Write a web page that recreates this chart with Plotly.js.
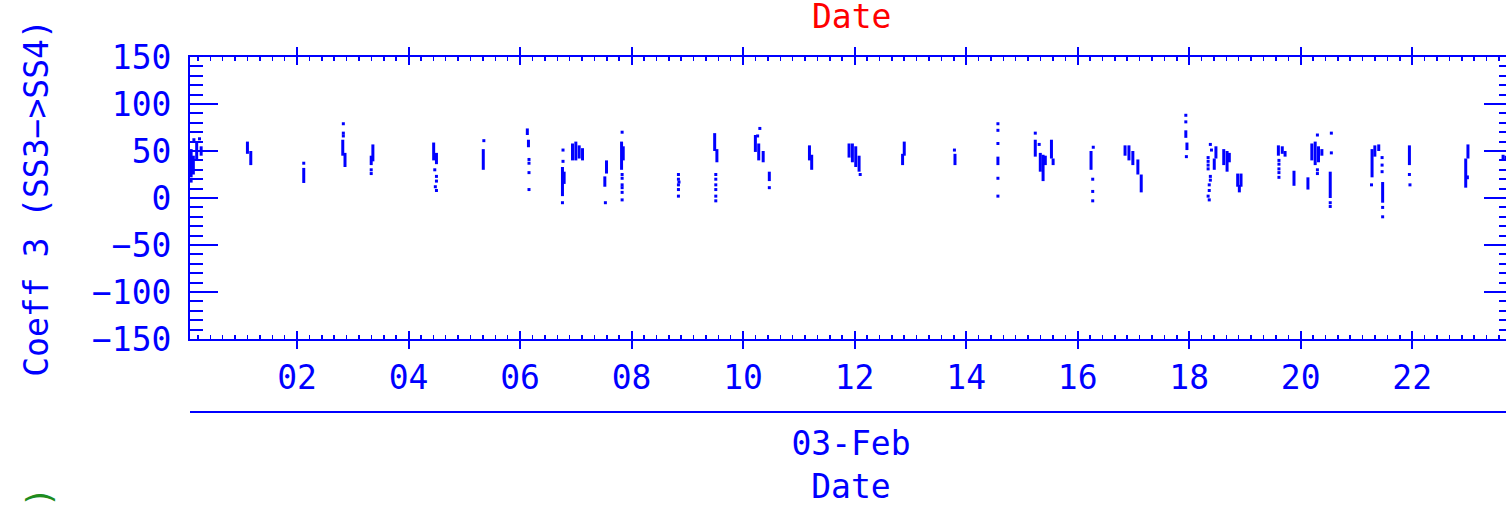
<!DOCTYPE html>
<html>
<head>
<meta charset="utf-8">
<script src="https://cdn.plot.ly/plotly-3.0.1.min.js"></script>
<style>
html, body { margin: 0; padding: 0; overflow: hidden; background: #fff; }
#chart { width: 1520px; height: 506px; }
</style>
</head>
<body>
<div id="chart"></div>
<script>
// ---- Data (hours of 03-Feb, coefficient values) ----
// Dense vertical runs of points: hour, low value, high value
const runHour = [0.10,0.14,0.20,0.28,1.11,1.17,2.12,2.82,2.86,3.36,3.33,4.45,4.50,5.34,6.13,6.15,6.76,6.79,6.94,7.00,7.06,7.12,7.55,7.52,7.82,7.85,9.49,9.53,10.22,10.28,10.36,10.47,11.19,11.23,11.90,11.96,12.02,12.08,12.89,12.86,13.80,14.57,15.24,15.33,15.38,15.42,15.53,15.56,16.24,16.85,16.92,16.99,17.08,17.14,17.94,17.96,18.48,18.45,18.62,18.68,18.72,18.87,18.93,18.90,19.60,19.67,19.72,19.88,20.13,20.20,20.26,20.32,20.38,20.53,21.28,21.33,21.40,21.47,21.95,23.00,22.96,22.99,23.63,23.68];
const runLow  = [22,25,40,45,47,35,16,45,33,39,35,40,36,30,67,54,2,15,40,40,42,40,26,12,30,40,50,38,49,40,38,18,40,30,43,38,33,28,45,35,35,35,44,28,18,35,42,35,30,45,40,35,25,6,64,51,42,30,35,28,38,12,12,6,45,47,44,13,9,40,35,38,45,0,22,44,50,-5,35,42,11,20,40,41];
const runHigh = [52,45,60,55,60,50,32,62,48,57,45,59,48,52,74,62,33,28,58,60,56,53,40,23,60,55,69,52,67,58,50,28,56,46,58,58,55,45,60,47,47,44,62,48,46,45,62,42,50,56,56,50,41,25,72,59,55,42,52,50,48,26,26,14,56,55,50,29,22,58,60,55,52,28,52,56,57,17,56,57,42,24,46,45];
// Isolated points: hour, value
const dotHour = [0.15,0.25,0.10,2.12,2.83,2.83,2.83,3.33,3.33,4.47,4.50,4.50,4.48,4.50,5.35,6.16,6.16,6.16,6.16,6.77,6.77,6.76,7.53,7.83,7.83,7.83,7.83,7.83,7.83,7.83,8.84,8.84,8.85,8.84,8.84,8.84,9.51,9.51,9.51,9.51,9.51,9.51,10.30,10.26,10.47,12.10,13.79,14.57,14.57,14.57,14.57,14.57,15.24,15.31,16.28,16.27,16.27,16.27,17.94,17.94,17.95,18.38,18.40,18.34,18.34,18.34,18.34,18.38,18.38,18.36,18.36,18.34,18.36,19.61,19.61,19.61,19.61,19.61,20.30,20.30,20.30,20.53,20.53,20.55,20.55,21.27,21.46,21.46,21.46,21.47,21.47,21.95,21.96];
const dotValue = [62,63,18,37,79,69,66,30,26,30,23,18,12,8,61,41,37,27,9,51,39,-5,-5,70,25,21,14,11,6,-2,25,20,17,14,9,2,25,20,14,9,2,-3,74,66,11,25,51,79,72,58,21,2,69,57,54,20,7,-3,88,81,44,57,51,43,39,35,31,23,19,14,8,2,-2,40,36,31,27,22,67,30,26,-5,-9,69,48,14,43,35,28,-10,-20,25,14];
// Axis ticks
const xTickVals = [2,4,6,8,10,12,14,16,18,20,22];
const xTickText = ["02","04","06","08","10","12","14","16","18","20","22"];
const yTickVals = [-150,-100,-50,0,50,100,150];
const yTickText = ["\u2212150","\u2212100","\u221250","0","50","100","150"];
const xRange = [0.08, 23.79];
const yRange = [-150, 150];
const xMinorStep = 2 / 9;
const yMinorStep = 10;

// ---- Build traces ----
const segX = [], segY = [];
for (let i = 0; i < runHour.length; i++) {
  segX.push(runHour[i], runHour[i], null);
  segY.push(runLow[i], runHigh[i], null);
}
const BLUE = '#0000ff';
const FONT = 'DejaVu Sans Mono';
const DOMAIN_Y = [0.2056, 1];

const traces = [
  { x: segX, y: segY, mode: 'lines', type: 'scatter', connectgaps: false,
    line: { color: BLUE, width: 3 }, hoverinfo: 'skip', showlegend: false },
  { x: dotHour, y: dotValue, mode: 'markers', type: 'scatter',
    marker: { color: BLUE, size: 3, symbol: 'square', line: { width: 0 } },
    showlegend: false },
  { x: [], y: [], xaxis: 'x2', yaxis: 'y', type: 'scatter', mode: 'markers', showlegend: false },
  { x: [], y: [], xaxis: 'x3', yaxis: 'y', type: 'scatter', mode: 'markers', showlegend: false },
  { x: [], y: [], xaxis: 'x', yaxis: 'y3', type: 'scatter', mode: 'markers', showlegend: false },
  { x: [], y: [], xaxis: 'x', yaxis: 'y5', type: 'scatter', mode: 'markers', showlegend: false }
];

const layout = {
  width: 1520, height: 506,
  margin: { l: 190, r: 8, t: 57, b: 94 },
  paper_bgcolor: '#fff', plot_bgcolor: '#fff',
  font: { family: FONT, size: 33, color: BLUE },
  showlegend: false,
  xaxis: {
    anchor: 'y', range: xRange, showgrid: false, zeroline: false,
    showline: true, linecolor: BLUE, linewidth: 2, mirror: 'allticks',
    ticks: 'inside', ticklen: 8, tickwidth: 2, tickcolor: BLUE,
    tickvals: xTickVals, ticktext: xTickText, ticklabelstandoff: 8,
    tickfont: { family: FONT, size: 33, color: BLUE }
  },
  xaxis3: {
    overlaying: 'x', anchor: 'y', range: xRange, showgrid: false, zeroline: false,
    showline: false, mirror: 'ticks', showticklabels: false,
    tickmode: 'linear', tick0: 0, dtick: xMinorStep,
    ticks: 'inside', ticklen: 4, tickwidth: 1.5, tickcolor: BLUE
  },
  xaxis2: {
    overlaying: 'x', anchor: 'free', position: 0, range: xRange,
    showgrid: false, zeroline: false, showline: true, linecolor: BLUE, linewidth: 2,
    ticks: '', showticklabels: false,
    title: { text: '03-Feb<br>Date', standoff: 24, font: { family: FONT, size: 33, color: BLUE } }
  },
  yaxis: {
    domain: DOMAIN_Y, range: yRange, showgrid: false, zeroline: false,
    showline: true, linecolor: BLUE, linewidth: 2, mirror: true,
    ticks: '', tickvals: yTickVals, ticktext: yTickText, ticklabelstandoff: 10,
    tickfont: { family: FONT, size: 33, color: BLUE },
    title: { text: 'Coeff 3 (SS3\u2212>SS4)', standoff: 33, font: { family: FONT, size: 33, color: BLUE } }
  },
  yaxis3: {
    overlaying: 'y', anchor: 'x', range: yRange, showgrid: false, zeroline: false,
    showline: false, mirror: 'ticks', showticklabels: false,
    tickmode: 'linear', tick0: 0, dtick: yMinorStep,
    ticks: 'inside', ticklen: 13, tickwidth: 2, tickcolor: BLUE
  },
  yaxis5: {
    overlaying: 'y', anchor: 'x', side: 'right', range: yRange, showgrid: false, zeroline: false,
    showline: false, mirror: 'allticks', showticklabels: false,
    tickmode: 'array', tickvals: yTickVals,
    ticks: 'inside', ticklen: 28, tickwidth: 2, tickcolor: BLUE
  },
  annotations: [
    { text: 'Date', xref: 'paper', yref: 'paper', x: 0.5, y: 1.113, xanchor: 'center', yanchor: 'middle',
      showarrow: false, font: { family: FONT, size: 33, color: '#ff0000' } },
    { text: ')', xref: 'paper', yref: 'paper', x: -0.1135, y: -0.2394, xanchor: 'center', yanchor: 'middle',
      textangle: -90, showarrow: false, font: { family: FONT, size: 33, color: '#1e8c1e' } }
  ]
};

Plotly.newPlot('chart', traces, layout, { displayModeBar: false, staticPlot: true });
</script>
</body>
</html>
